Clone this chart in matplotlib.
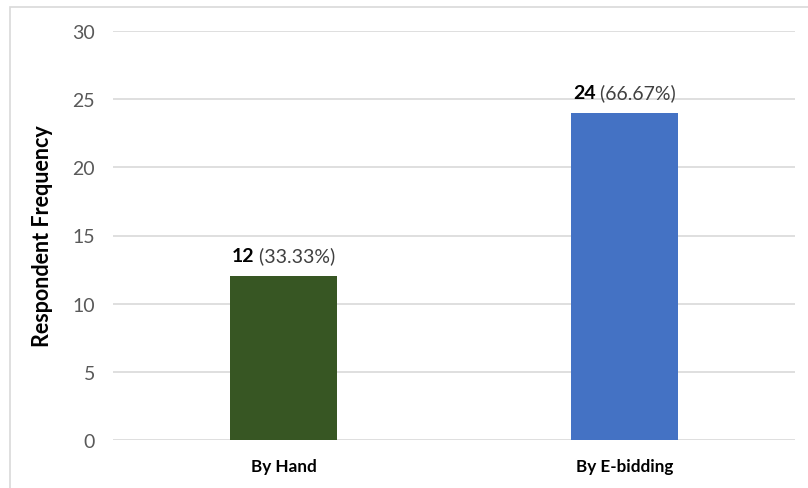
import matplotlib
matplotlib.use("Agg")
import matplotlib.pyplot as plt
from matplotlib.patches import Rectangle

categories = ["By Hand", "By E-bidding"]
values = [12, 24]
percents = ["33.33%", "66.67%"]
colors = ["#375623", "#4472C4"]
yticks = [0, 5, 10, 15, 20, 25, 30]

W, H = 808, 489
fig = plt.figure(figsize=(W/100, H/100), dpi=100)
plt.rcParams['font.family'] = ['Lato', 'DejaVu Sans']

# chart frame
fig.patches.append(Rectangle((10/W, -0.1), 1.2, (H-8)/H + 0.1, transform=fig.transFigure,
                             fill=False, edgecolor="#d9d9d9", linewidth=1.2))

ax = fig.add_axes([113/W, 48/H, (795-113)/W, (457-48)/H])
x = list(range(len(categories)))
ax.bar(x, values, width=0.314, color=colors, zorder=3)
ax.set_xlim(-0.5, 1.5)
ax.set_ylim(0, 30)
ax.set_yticks(yticks)
ax.set_yticklabels([str(t) for t in yticks], color="#595959", fontsize=14)
ax.set_xticks(x)
ax.set_xticklabels(categories, fontweight="bold", fontsize=12.3, color="black")
ax.tick_params(axis='both', length=0)
ax.tick_params(axis='y', pad=13)
ax.tick_params(axis='x', pad=13)
ax.grid(axis='y', color="#d9d9d9", linewidth=1.2, zorder=0)
for s in ax.spines.values():
    s.set_visible(False)
ax.set_ylabel("Respondent Frequency", fontweight="bold", fontsize=15.5)
ax.yaxis.set_label_coords((53 - 113) / 682, 0.5)

fig.canvas.draw()
r = fig.canvas.get_renderer()
for xi, v, p in zip(x, values, percents):
    px, py = ax.transData.transform((xi, v))
    py += 15
    t1 = fig.text(0, 0, str(v), fontweight="bold", fontsize=14, transform=None, va='baseline')
    t2 = fig.text(0, 0, " (" + p + ")", fontsize=14, transform=None, color="#404040", va='baseline')
    w1 = t1.get_window_extent(r).width
    w2 = t2.get_window_extent(r).width
    start = px - (w1 + w2) / 2
    t1.set_position((start, py))
    t2.set_position((start + w1, py))

fig.savefig("out.png", dpi=100)
